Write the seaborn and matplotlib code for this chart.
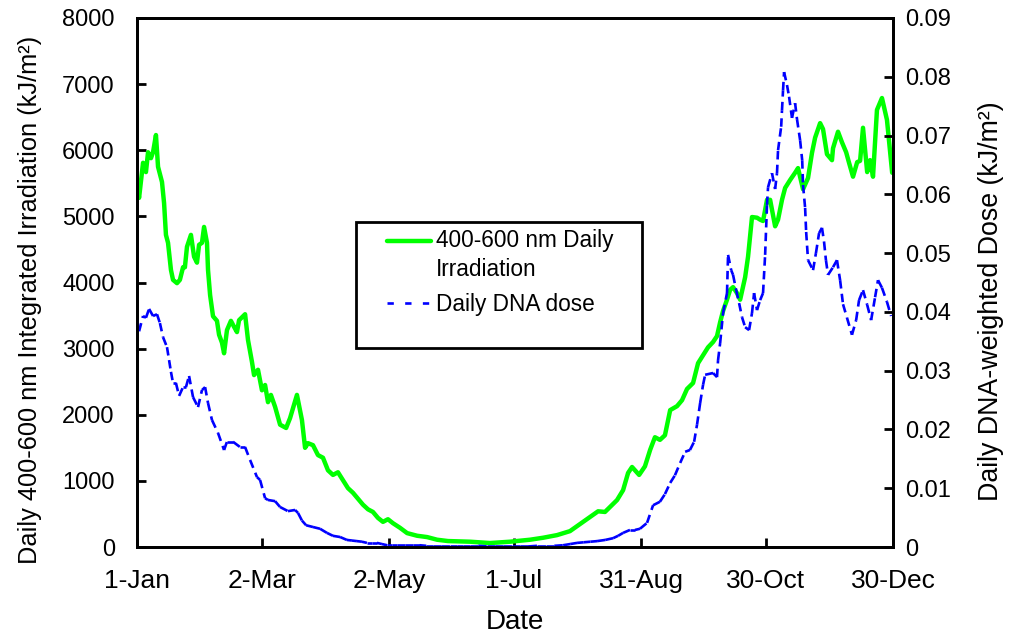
import numpy as np
import pandas as pd
import matplotlib
matplotlib.use("Agg")
import matplotlib.pyplot as plt
from matplotlib.collections import LineCollection
from matplotlib.lines import Line2D
from matplotlib.patches import Rectangle
from matplotlib.legend_handler import HandlerLine2D
import seaborn as sns

# ---------------- data ----------------
green_day = [0.0, 1.0, 2.4, 2.9, 4.3, 5.3, 6.7, 7.7, 9.1, 10.1,
             12.0, 13.0, 13.9, 14.9, 16.3, 17.3, 19.2, 20.6, 22.1, 23.0,
             24.0, 25.9, 27.4, 28.8, 29.8, 31.2, 32.2, 33.6, 34.1, 35.1,
             36.5, 38.4, 39.4, 40.8, 41.8, 43.2, 45.1, 46.6, 48.0, 49.0,
             51.9, 53.3, 55.2, 56.2, 58.1, 60.0, 61.5, 62.9, 64.3, 66.3,
             68.7, 71.6, 73.5, 76.8, 79.2, 80.7, 82.1, 84.5, 86.9, 89.3,
             91.7, 94.1, 96.5, 98.9, 101.3, 103.7, 106.1, 108.5, 110.9, 113.3,
             115.7, 118.1, 120.5, 122.9, 126.3, 129.7, 134.5, 139.3, 144.1, 149.3,
             159.9, 169.5, 179.1, 188.7, 195.0, 201.7, 207.9, 214.2, 221.4, 224.7,
             230.5, 233.4, 235.8, 237.7, 241.1, 243.9, 246.4, 248.7, 251.1, 253.5,
             256.0, 259.3, 261.7, 264.1, 267.0, 269.4, 271.8, 274.2, 276.6, 278.5,
             280.0, 281.4, 283.3, 284.8, 286.2, 288.1, 289.6, 292.0, 293.4, 295.3,
             297.7, 299.2, 300.6, 302.5, 304.0, 306.4, 307.8, 309.7, 311.2, 313.6,
             316.0, 317.4, 319.8, 322.2, 324.1, 325.6, 328.0, 329.4, 331.3, 333.7,
             334.2, 336.6, 338.5, 340.5, 341.9, 343.8, 345.8, 347.2, 348.6, 350.6,
             352.0, 353.4, 355.3, 357.7, 360.1, 362.6]
green_val = [5470, 5280, 5670, 5810, 5670, 5970, 5880, 5970, 6230, 5750,
             5520, 5200, 4720, 4600, 4190, 4040, 3990, 4040, 4230, 4230,
             4540, 4720, 4390, 4300, 4570, 4600, 4840, 4600, 4190, 3810,
             3490, 3420, 3210, 3090, 2930, 3280, 3420, 3330, 3250, 3430,
             3520, 3130, 2800, 2600, 2680, 2370, 2450, 2190, 2300, 2120,
             1850, 1800, 1950, 2300, 1920, 1500, 1570, 1540, 1390, 1350,
             1160, 1090, 1130, 1010, 890, 820, 730, 640, 570, 530,
             440, 380, 420, 360, 290, 210, 170, 150, 110, 90,
             80, 60, 80, 110, 140, 180, 240, 380, 540, 530,
             710, 860, 1120, 1210, 1090, 1220, 1470, 1660, 1620, 1690,
             2070, 2130, 2220, 2390, 2480, 2780, 2900, 3020, 3100, 3190,
             3400, 3570, 3740, 3890, 3930, 3840, 3740, 4080, 4390, 4990,
             4980, 4950, 4930, 5250, 5250, 4850, 4950, 5250, 5430, 5550,
             5660, 5730, 5410, 5580, 5960, 6190, 6410, 6320, 5940, 5850,
             6030, 6280, 6120, 5970, 5810, 5600, 5820, 5840, 6340, 5670,
             5850, 5600, 6610, 6790, 6460, 5660]

dna_day = [0.0, 1.0, 2.9, 4.3, 5.8, 7.7, 9.6, 11.0, 12.5, 14.4,
           15.4, 16.3, 17.3, 18.7, 20.2, 22.1, 23.5, 25.0, 26.9, 29.3,
           31.2, 32.7, 34.1, 36.0, 38.9, 41.8, 43.2, 46.1, 49.5, 51.9,
           54.3, 57.6, 59.1, 61.5, 62.9, 66.3, 68.7, 72.5, 75.9, 77.3,
           79.2, 81.2, 84.5, 87.9, 91.2, 94.1, 97.5, 100.8, 103.2, 105.6,
           108.0, 110.4, 112.8, 115.2, 117.6, 120.1, 122.5, 124.9, 128.7, 132.5,
           135.7, 138.9, 142.1, 146.2, 150.3, 153.5, 156.7, 159.9, 163.9, 167.9,
           171.9, 175.8, 179.9, 184.0, 188.0, 192.1, 196.3, 200.4, 204.6, 208.0,
           211.3, 214.5, 217.7, 220.9, 224.8, 228.6, 231.0, 233.4, 236.7, 239.1,
           241.5, 244.9, 247.8, 251.1, 253.5, 256.0, 258.3, 260.8, 263.2, 265.5,
           267.5, 268.9, 270.4, 271.8, 272.8, 276.6, 278.5, 279.0, 280.0, 281.4,
           283.3, 283.8, 285.3, 286.2, 287.7, 289.1, 290.5, 292.0, 293.9, 295.3,
           296.3, 297.7, 299.2, 300.6, 301.6, 302.5, 303.0, 304.9, 306.4, 307.3,
           307.8, 309.3, 309.7, 310.2, 310.7, 312.1, 313.1, 314.5, 316.0, 316.9,
           318.4, 319.4, 319.8, 320.8, 321.3, 322.2, 324.6, 326.0, 327.5, 328.9,
           329.9, 330.8, 331.8, 334.2, 336.1, 337.6, 339.0, 340.9, 343.3, 345.3,
           346.7, 348.6, 350.6, 352.5, 354.4, 355.8, 357.7, 360.1, 362.1]
dna_val = [0.0388, 0.0367, 0.0393, 0.0390, 0.0405, 0.0393, 0.0396, 0.0381, 0.0357, 0.0340,
           0.0318, 0.0298, 0.0279, 0.0279, 0.0257, 0.0272, 0.0272, 0.0291, 0.0255, 0.0238,
           0.0267, 0.0272, 0.0245, 0.0216, 0.0194, 0.0165, 0.0179, 0.0179, 0.0170, 0.0170,
           0.0148, 0.0119, 0.0114, 0.0083, 0.0080, 0.0078, 0.0068, 0.0061, 0.0063, 0.0058,
           0.0045, 0.0037, 0.0034, 0.0031, 0.0024, 0.0019, 0.0017, 0.0012, 0.0011, 0.0010,
           0.0009, 0.0007, 0.0007, 0.0007, 0.0005, 0.0003, 0.0003, 0.0003, 0.0003, 0.0003,
           0.0003, 0.0002, 0.0002, 0.0002, 0.0002, 0.0002, 0.0002, 0.0002, 0.0002, 0.0001,
           0.0001, 0.0001, 0.0001, 0.0001, 0.0001, 0.0002, 0.0002, 0.0002, 0.0003, 0.0005,
           0.0007, 0.0008, 0.0009, 0.0010, 0.0012, 0.0015, 0.0019, 0.0024, 0.0029, 0.0029,
           0.0031, 0.0041, 0.0071, 0.0077, 0.0090, 0.0109, 0.0122, 0.0143, 0.0162, 0.0165,
           0.0179, 0.0208, 0.0245, 0.0276, 0.0293, 0.0296, 0.0289, 0.0318, 0.0347, 0.0398,
           0.0432, 0.0497, 0.0471, 0.0463, 0.0437, 0.0415, 0.0391, 0.0374, 0.0369, 0.0398,
           0.0432, 0.0403, 0.0420, 0.0432, 0.0497, 0.0582, 0.0612, 0.0636, 0.0609, 0.0636,
           0.0675, 0.0715, 0.0743, 0.0777, 0.0808, 0.0786, 0.0766, 0.0730, 0.0755, 0.0728,
           0.0692, 0.0658, 0.0616, 0.0577, 0.0536, 0.0488, 0.0471, 0.0500, 0.0534, 0.0543,
           0.0519, 0.0488, 0.0463, 0.0476, 0.0488, 0.0454, 0.0413, 0.0390, 0.0361, 0.0386,
           0.0420, 0.0437, 0.0412, 0.0386, 0.0425, 0.0454, 0.0441, 0.0417, 0.0393]

tick_days = [0, 60, 121, 181, 242, 302, 363]
tick_labels = ["1-Jan", "2-Mar", "2-May", "1-Jul", "31-Aug", "30-Oct", "30-Dec"]
left_ticks = [0, 1000, 2000, 3000, 4000, 5000, 6000, 7000, 8000]
right_ticks = [0, 0.01, 0.02, 0.03, 0.04, 0.05, 0.06, 0.07, 0.08, 0.09]

legend_labels = ["400-600 nm Daily\nIrradiation", "Daily DNA dose"]

# ---------------- style ----------------
sns.set_style("white")
plt.rcParams["font.family"] = ["Liberation Sans", "DejaVu Sans"]
for k in ("text.color", "axes.labelcolor", "xtick.color", "ytick.color",
          "axes.edgecolor"):
    plt.rcParams[k] = "black"

GREEN = "#00FF00"
BLUE = "#0000FF"

fig = plt.figure(figsize=(10.09, 6.39), dpi=100)
ax = fig.add_axes([137 / 1009, 92 / 639, 756 / 1009, 529 / 639])

gdf = pd.DataFrame({"day": green_day, "val": green_val})
sns.lineplot(data=gdf, x="day", y="val", ax=ax, color=GREEN, linewidth=3.2,
             solid_joinstyle="round", legend=False)

ax.set_xlim(0, 363)
ax.set_ylim(0, 8000)
ax.set_yticks(left_ticks)
ax.set_yticklabels([str(v) for v in left_ticks])
ax.set_xticks(tick_days)
ax.set_xticklabels(tick_labels)

ax2 = ax.twinx()
ax2.set_ylim(0, 0.09)
ax2.set_yticks(right_ticks)
ax2.set_yticklabels(["0" if v == 0 else f"{v:.2f}" for v in right_ticks])

# blue dashed line: each segment restarts its dash pattern (spreadsheet style)
pts = np.column_stack([dna_day, dna_val])
segs = np.stack([pts[:-1], pts[1:]], axis=1)
lc = LineCollection(segs, colors=BLUE, linewidths=1.9,
                    linestyles=[(0, (3.2, 2.0))], capstyle="butt")
ax2.add_collection(lc)

for a in (ax, ax2):
    for s in a.spines.values():
        s.set_visible(True)
        s.set_color("black")
        s.set_linewidth(2.0)

ax.tick_params(axis="y", which="both", direction="in", length=6.5, width=2,
               labelsize=17, pad=16, left=True, right=False, colors="black")
ax.tick_params(axis="x", which="both", direction="in", length=6.5, width=2,
               labelsize=19, pad=16, bottom=True, top=False, colors="black")
ax2.tick_params(axis="y", which="both", direction="in", length=6.5, width=2,
                labelsize=17, pad=9, right=True, left=False, colors="black")

ax.set_xlabel("Date", fontsize=20, color="black")
ax.xaxis.set_label_coords(0.5, -0.118)
ax.set_ylabel("Daily 400-600 nm Integrated Irradiation (kJ/m²)", fontsize=18.3,
              color="black")
ax.yaxis.set_label_coords(-0.125, 0.467)
ax2.set_ylabel("Daily DNA-weighted Dose (kJ/m²)", fontsize=19.3, color="black")
ax2.yaxis.set_label_coords(1.113, 0.465)


class FirstLineHandler(HandlerLine2D):
    """Line handle aligned with the first line of a two-line label."""

    def __init__(self, shift, **kw):
        super().__init__(**kw)
        self.shift = shift

    def create_artists(self, legend, orig_handle, xdescent, ydescent, width,
                       height, fontsize, trans):
        return super().create_artists(legend, orig_handle, xdescent,
                                      ydescent - 2 * self.shift, width, height,
                                      fontsize, trans)


# legend
rect = Rectangle((0.2897, 0.376), 0.378, 0.2384, transform=ax2.transAxes,
                 facecolor="white", edgecolor="black", linewidth=2.0,
                 zorder=5, clip_on=False)
ax2.add_patch(rect)
LEG_FS = 16.3
h_green = Line2D([], [], color=GREEN, linewidth=3.2)
h_blue = Line2D([], [], color=BLUE, linewidth=1.9, dashes=(2.4, 4.3))
leg = ax2.legend(handles=[h_green, h_blue], labels=legend_labels,
                 loc="upper left", bbox_to_anchor=(0.3307, 0.601),
                 frameon=False, borderpad=0, borderaxespad=0,
                 handlelength=1.95, handletextpad=0.2, labelspacing=0.5,
                 fontsize=LEG_FS,
                 handler_map={h_green: FirstLineHandler(0.68 * LEG_FS)})
for t in leg.get_texts():
    t.set_linespacing(1.35)
    t.set_color("black")
leg.set_zorder(6)

fig.savefig("out.png", dpi=100, facecolor="white")
